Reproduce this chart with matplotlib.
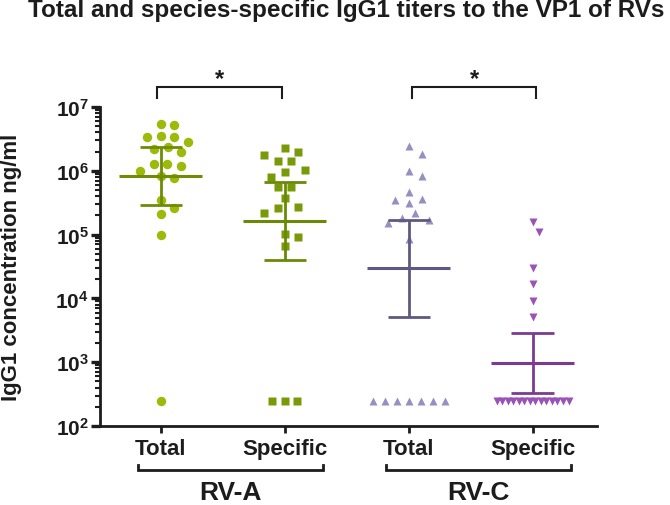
import numpy as np
import matplotlib
matplotlib.use("Agg")
import matplotlib.pyplot as plt
from matplotlib.ticker import FuncFormatter, LogLocator, NullFormatter
from matplotlib.transforms import blended_transform_factory

plt.rcParams['font.family'] = ['Liberation Sans', 'DejaVu Sans']
plt.rcParams['font.weight'] = 'bold'
plt.rcParams['mathtext.fontset'] = 'custom'
plt.rcParams['mathtext.rm'] = 'Liberation Sans:bold'
plt.rcParams['mathtext.it'] = 'Liberation Sans:bold'
plt.rcParams['mathtext.bf'] = 'Liberation Sans:bold'

# ---- data ----
groups = ["Total", "Specific", "Total", "Specific"]
species = ["RV-A", "RV-C"]

rva_total = [5.3e6, 5.4e6, 3.4e6, 3.35e6, 3.55e6, 2.8e6, 2.35e6, 1.95e6, 2.2e6, 1.28e6,
             1.2e6, 1.28e6, 8.4e5, 7.7e5, 9.8e5, 3.5e5, 2.6e5, 2.1e5, 1.0e5, 250]
rva_specific = [1.95e6, 1.4e6, 1.4e6, 1.8e6, 2.27e6, 1.03e6, 8.1e5, 9.5e5, 5.6e5, 5.6e5,
                3.75e5, 2.75e5, 2.6e5, 2.15e5, 9.1e4, 1.02e5, 6.7e4, 250, 250, 250]
rvc_total = [2.47e6, 1.83e6, 8.4e5, 1.0e6, 4.7e5, 3.5e5, 3.1e5, 3.6e5, 2.2e5, 1.8e5,
             1.5e5, 1.7e5, 8.5e4, 250, 250, 250, 250, 250, 250, 250]
rvc_specific = [1.6e5, 1.1e5, 2.96e4, 1.68e4, 9.2e3, 5.2e3, 250, 250, 250, 250,
                250, 250, 250, 250, 250, 250, 250, 250, 250, 250]

means = [8.2e5, 1.65e5, 3.0e4, 970]
upper = [2.33e6, 6.6e5, 1.71e5, 2.9e3]
lower = [2.9e5, 4.0e4, 5.2e3, 330]

marker_colors = ['#9dba0a', '#789a08', '#9490c2', '#9b52b8']
line_colors = ['#6e8c06', '#6a8a06', '#5f5882', '#7c3a93']
markers = ['o', 's', '^', 'v']
msizes = [6.8, 6.0, 6.4, 6.2]
ink = '#1c1c1c'


def swarm(ax, x0, vals, d=11.5, step=6.8, row_gap=12.5, max_w=72):
    # GraphPad-like scatter: spread points horizontally in pixel space
    vals = np.asarray(vals, float)
    pts = ax.transData.transform(np.column_stack([np.full(len(vals), x0), vals]))
    xc = pts[0, 0]
    ys = pts[:, 1]
    xs = np.full(len(vals), xc)
    placed = []
    done = np.zeros(len(vals), bool)
    key = np.round(ys, 1)
    for u in np.unique(key):
        idx = np.where(key == u)[0]
        if len(idx) > 1:
            gap = min(row_gap, max_w / (len(idx) - 1))
            xs[idx] = xc + (np.arange(len(idx)) - (len(idx) - 1) / 2) * gap
            done[idx] = True
            placed += list(idx)
    for i in np.argsort(-ys):
        if done[i]:
            continue
        for k in [0] + [s * k for k in range(1, 20) for s in (1, -1)]:
            x = xc + k * step
            if all(np.hypot(x - xs[j], ys[i] - ys[j]) >= d for j in placed):
                break
        xs[i] = x
        placed.append(i)
    return ax.transData.inverted().transform(np.column_stack([xs, ys]))[:, 0]


fig = plt.figure(figsize=(6.7, 5.06), dpi=100)
ax = fig.add_axes([100 / 670, 1 - 427 / 506, 497 / 670, 319 / 506])
ax.set_yscale('log')
ax.set_xlim(-0.49, 3.52)
ax.set_ylim(1e2, 1e7)

series = [rva_total, rva_specific, rvc_total, rvc_specific]
for i, vals in enumerate(series):
    xs = swarm(ax, i, vals)
    ax.plot(xs, vals, ls='none', marker=markers[i], ms=msizes[i],
            mfc=marker_colors[i], mec='none', zorder=2)
    c = line_colors[i]
    ax.hlines(means[i], i - 0.335, i + 0.335, color=c, lw=2.2, zorder=3)
    ax.hlines([lower[i], upper[i]], i - 0.17, i + 0.17, color=c, lw=2.0, zorder=3)
    ax.vlines(i, lower[i], upper[i], color=c, lw=2.0, zorder=3)

# axes styling
for s in ['top', 'right']:
    ax.spines[s].set_visible(False)
for s in ['left', 'bottom']:
    ax.spines[s].set_linewidth(2.0)
    ax.spines[s].set_color(ink)

ax.yaxis.set_major_locator(LogLocator(base=10, numticks=10))
ax.yaxis.set_minor_locator(LogLocator(base=10, subs=np.arange(2, 10), numticks=20))
ax.yaxis.set_major_formatter(FuncFormatter(lambda v, p: r'$10^{%d}$' % round(np.log10(v))))
ax.yaxis.set_minor_formatter(NullFormatter())
ax.tick_params(axis='y', which='major', length=6.5, width=2.4, pad=1.5,
               labelsize=15, colors=ink)
ax.tick_params(axis='y', which='minor', length=3.8, width=1.5, colors=ink)

ax.set_xticks(range(4))
ax.set_xticklabels(groups, fontsize=16, fontweight='bold')
ax.tick_params(axis='x', length=5, width=2.0, pad=3.5, colors=ink)

ax.set_ylabel('IgG1 concentration ng/ml', fontsize=16, fontweight='bold', color=ink)
ax.yaxis.set_label_coords(-0.156, 0.5)

# significance brackets
for a, b in [(-0.03, 0.98), (2.03, 3.03)]:
    ax.plot([a, a, b, b], [1.38e7, 2.04e7, 2.04e7, 1.38e7], color=ink, lw=1.5,
            clip_on=False, solid_joinstyle='miter')
    ax.text((a + b) / 2, 2.75e7, '*', ha='center', va='center', fontsize=17,
            fontweight='bold', color=ink)

# species group brackets under the tick labels
tr = blended_transform_factory(ax.transData, ax.transAxes)
trf = blended_transform_factory(ax.transData, fig.transFigure)
for k, name in enumerate(species):
    a, b = 2 * k - 0.185, 2 * k + 1.31
    ax.plot([a, a, b, b], [-0.122, -0.138, -0.138, -0.122], color=ink, lw=2.0,
            transform=tr, clip_on=False, solid_joinstyle='miter')
    fig.text((a + b) / 2, 0.012, name, ha='center', va='baseline', fontsize=19,
             fontweight='bold', color=ink, transform=trf)

fig.text(346 / 670, 1 - 17.3 / 506, 'Total and species-specific IgG1 titers to the VP1 of RVs',
         ha='center', va='baseline', fontsize=17.5, fontweight='bold', color=ink)

fig.savefig('out.png', dpi=100)
